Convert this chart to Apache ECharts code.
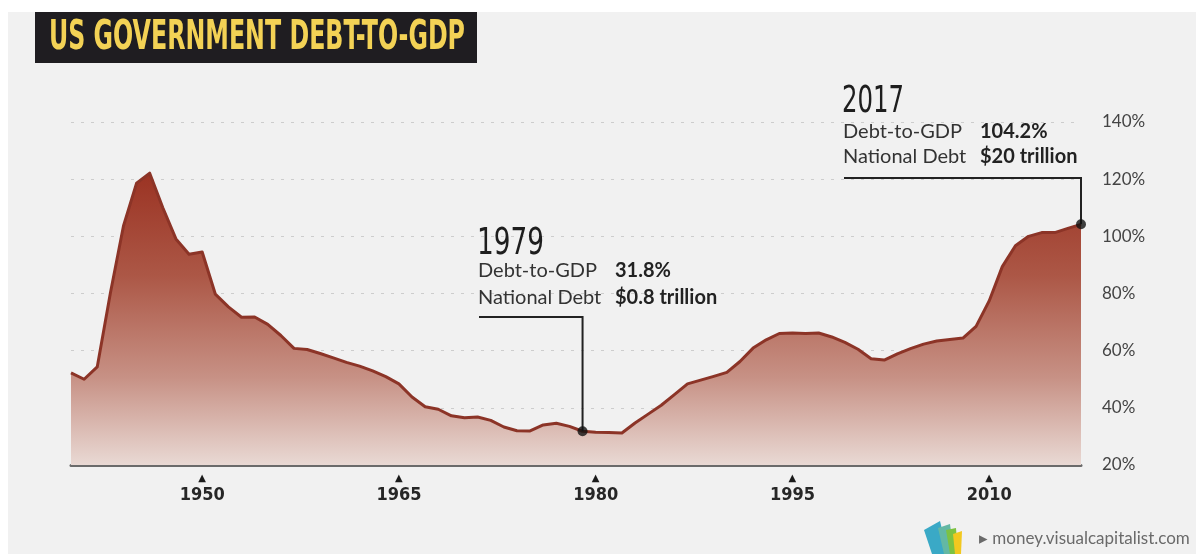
<!DOCTYPE html>
<html>
<head>
<meta charset="utf-8">
<title>US Government Debt-to-GDP</title>
<script src="https://cdn.jsdelivr.net/npm/echarts@6/dist/echarts.min.js"></script>
<style>
  html, body { margin: 0; padding: 0; background: #ffffff; }
  #chart { width: 1196px; height: 554px; }
</style>
</head>
<body>
<div id="chart"></div>
<script>
// ---- data -------------------------------------------------------------
const years = [
  1940, 1941, 1942, 1943, 1944, 1945, 1946, 1947, 1948, 1949,
  1950, 1951, 1952, 1953, 1954, 1955, 1956, 1957, 1958, 1959,
  1960, 1961, 1962, 1963, 1964, 1965, 1966, 1967, 1968, 1969,
  1970, 1971, 1972, 1973, 1974, 1975, 1976, 1977, 1978, 1979,
  1980, 1981, 1982, 1983, 1984, 1985, 1986, 1987, 1988, 1989,
  1990, 1991, 1992, 1993, 1994, 1995, 1996, 1997, 1998, 1999,
  2000, 2001, 2002, 2003, 2004, 2005, 2006, 2007, 2008, 2009,
  2010, 2011, 2012, 2013, 2014, 2015, 2016, 2017
];
// gross federal debt as % of GDP
const debtToGdp = [
  52.2, 50.0, 54.3, 80.1, 103.6, 118.6, 122.1, 110.0, 99.1, 93.7,
  94.5, 79.8, 75.3, 71.7, 71.8, 69.2, 65.3, 60.8, 60.4, 59.0,
  57.5, 55.9, 54.6, 52.9, 50.9, 48.4, 43.8, 40.4, 39.5, 37.2,
  36.5, 36.8, 35.6, 33.3, 32.0, 31.9, 34.0, 34.6, 33.5, 31.8,
  31.5, 31.4, 31.2, 34.7, 37.8, 40.9, 44.6, 48.4, 49.7, 51.0,
  52.4, 56.2, 60.9, 63.8, 66.0, 66.2, 66.0, 66.2, 64.8, 62.9,
  60.5, 57.2, 56.7, 58.9, 60.7, 62.3, 63.4, 63.9, 64.4, 68.5,
  77.4, 89.4, 96.7, 100.0, 101.3, 101.3, 102.8, 104.2
];
const xTickYears = [1950, 1965, 1980, 1995, 2010];
const yTickMin = 20;
const yTickMax = 140;
const yTickStep = 20;

// highlighted years
const calloutYears = [1979, 2017];
const calloutRatios = [31.8, 104.2];
const calloutDebt = ['$0.8 trillion', '$20 trillion'];

const TITLE = 'US GOVERNMENT DEBT-TO-GDP';
const SOURCE = '\u25B8 money.visualcapitalist.com';

// ---- chart ------------------------------------------------------------
const chart = echarts.init(document.getElementById('chart'), null, { renderer: 'canvas' });

const NARROW = '"Liberation Sans Narrow", "DejaVu Sans Condensed", "Roboto", sans-serif';
const BODY = 'Lato, "Open Sans", sans-serif';

const measureCtx = document.createElement('canvas').getContext('2d');
function textWidth(weight, size, family, str) {
  measureCtx.font = weight + ' ' + size + 'px ' + family;
  return measureCtx.measureText(str).width;
}

const option = {
  animation: false,
  backgroundColor: 'transparent',
  grid: { left: 71, right: 115, top: 122, bottom: 89, containLabel: false },
  xAxis: {
    type: 'value',
    min: years[0],
    max: years[years.length - 1],
    axisLine: { show: true, lineStyle: { color: '#6b6b6b', width: 3 } },
    axisTick: { show: false },
    splitLine: { show: false },
    axisLabel: {
      customValues: xTickYears,
      margin: 6,
      formatter: v => '{tri|\u25B2}\n{yr|' + v + '}',
      rich: {
        tri: { fontSize: 10, lineHeight: 14, color: '#1a1a1a', align: 'center', fontFamily: 'DejaVu Sans' },
        yr: { fontSize: 18, lineHeight: 20, color: '#262626', fontWeight: 'bold', align: 'center', fontFamily: NARROW }
      }
    }
  },
  yAxis: {
    type: 'value',
    position: 'right',
    min: yTickMin,
    max: yTickMax,
    interval: yTickStep,
    axisLine: { show: false },
    axisTick: { show: false },
    axisLabel: {
      margin: 21,
      formatter: '{value}%',
      color: '#444444',
      fontSize: 17,
      fontFamily: BODY
    },
    splitLine: {
      show: true,
      lineStyle: { color: '#cdcdcd', width: 1, type: [3, 7] }
    }
  },
  series: [
    {
      name: 'Debt-to-GDP',
      type: 'line',
      data: years.map((y, i) => [y, debtToGdp[i]]),
      symbol: 'none',
      z: 2,
      lineStyle: { color: '#8c3427', width: 3, join: 'round' },
      areaStyle: {
        origin: 'start',
        opacity: 1,
        color: new echarts.graphic.LinearGradient(0, 0, 0, 1, [
          { offset: 0, color: '#9b3323' },
          { offset: 0.35, color: '#ac5746' },
          { offset: 0.7, color: '#c79185' },
          { offset: 1, color: '#e9d9d4' }
        ])
      }
    },
    {
      name: 'Callouts',
      type: 'scatter',
      data: calloutYears.map((y, i) => [y, calloutRatios[i]]),
      symbol: 'circle',
      symbolSize: 10,
      itemStyle: { color: '#111111' },
      z: 6
    }
  ]
};

chart.setOption(option);

// ---- overlay: background, title, callouts, source ----------------------
function buildGraphics() {
  const g = [];

  // page panel
  g.push({ type: 'rect', z: -10, silent: true,
    shape: { x: 8, y: 12, width: 1196, height: 554 },
    style: { fill: '#f1f1f1' } });

  // title block
  g.push({ type: 'rect', z: 10, silent: true,
    shape: { x: 35, y: 12, width: 442, height: 51 },
    style: { fill: '#1f1d21' } });
  const tW = textWidth('bold', 40, NARROW, TITLE);
  g.push({ type: 'text', z: 11, silent: true,
    x: 49, y: 39, scaleX: 416 / tW,
    style: { text: TITLE, fontSize: 40, fontWeight: 'bold', fontFamily: NARROW,
      fill: '#f3d255', align: 'left', verticalAlign: 'middle' } });

  // callout layouts (pixel positions of the text blocks)
  const layouts = [
    { left: 478, yearMid: 244, row1: 271, row2: 298, elbowY: 317, yearW: 67 },
    { left: 843, yearMid: 102, row1: 132, row2: 157, elbowY: 178, yearW: 62 }
  ];
  calloutYears.forEach((yr, i) => {
    const L = layouts[i];
    const p = chart.convertToPixel({ gridIndex: 0 }, [yr, calloutRatios[i]]);
    const yw = textWidth('normal', 37, NARROW, String(yr));
    g.push({ type: 'text', z: 12, silent: true,
      x: L.left - 1, y: L.yearMid, scaleX: L.yearW / yw,
      style: { text: String(yr), fontSize: 37, fontFamily: NARROW, fill: '#1e1e1e',
        align: 'left', verticalAlign: 'middle' } });
    g.push({ type: 'text', z: 12, silent: true, x: L.left, y: L.row1,
      style: { text: 'Debt-to-GDP', fontSize: 20, fontFamily: BODY, fill: '#333333',
        align: 'left', verticalAlign: 'middle' } });
    g.push({ type: 'text', z: 12, silent: true, x: L.left + 137, y: L.row1,
      style: { text: calloutRatios[i].toFixed(1) + '%', fontSize: 20, fontWeight: 'bold',
        fontFamily: BODY, fill: '#222222', align: 'left', verticalAlign: 'middle' } });
    g.push({ type: 'text', z: 12, silent: true, x: L.left, y: L.row2,
      style: { text: 'National Debt', fontSize: 20, fontFamily: BODY, fill: '#333333',
        align: 'left', verticalAlign: 'middle' } });
    g.push({ type: 'text', z: 12, silent: true, x: L.left + 137, y: L.row2,
      style: { text: calloutDebt[i], fontSize: 20, fontWeight: 'bold',
        fontFamily: BODY, fill: '#222222', align: 'left', verticalAlign: 'middle' } });
    g.push({ type: 'polyline', z: 5, silent: true,
      shape: { points: [[L.left + 1, L.elbowY], [p[0], L.elbowY], [p[0], p[1]]] },
      style: { stroke: '#222222', lineWidth: 2, fill: null } });
  });

  // source mark: fan of leaves
  g.push({ type: 'polygon', z: 3, silent: true,
    shape: { points: [[924, 530], [940, 521], [948, 554], [932, 554]] },
    style: { fill: '#3aa9c6' } });
  g.push({ type: 'polygon', z: 4, silent: true,
    shape: { points: [[938, 528], [950, 524], [954, 554], [944, 554]] },
    style: { fill: '#63b8a4' } });
  g.push({ type: 'polygon', z: 5, silent: true,
    shape: { points: [[946, 530], [956, 528], [958, 554], [950, 554]] },
    style: { fill: '#7cc242' } });
  g.push({ type: 'polygon', z: 6, silent: true,
    shape: { points: [[953, 534], [962, 531], [961, 554], [955, 554]] },
    style: { fill: '#f2c81f' } });
  g.push({ type: 'text', z: 3, silent: true, x: 979, y: 539,
    style: { text: SOURCE, fontSize: 17, fontFamily: BODY, fill: '#6a6a6a',
      align: 'left', verticalAlign: 'middle' } });

  return g;
}

chart.setOption({ graphic: buildGraphics() });
</script>
</body>
</html>
